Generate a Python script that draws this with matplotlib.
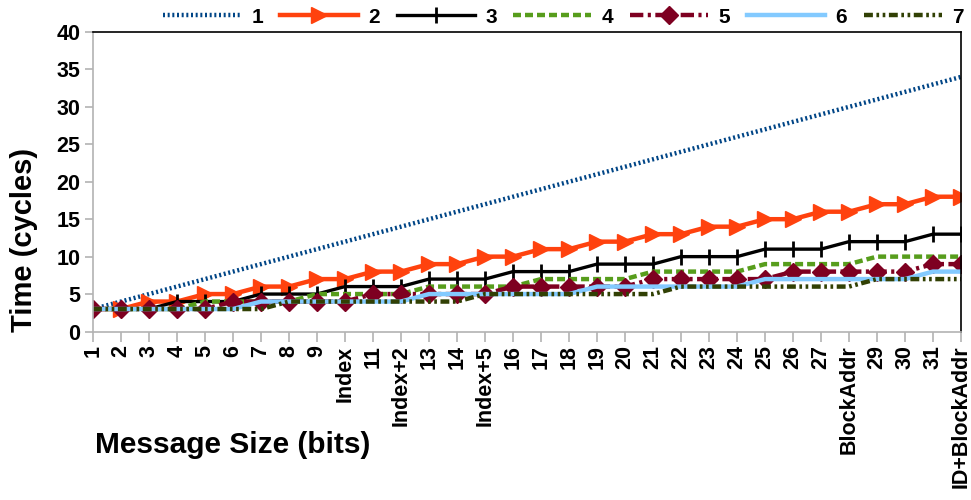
import matplotlib
matplotlib.use("Agg")
import matplotlib.pyplot as plt

# x categories (message size labels)
sizes = ["1", "2", "3", "4", "5", "6", "7", "8", "9", "Index", "11", "Index+2",
         "13", "14", "Index+5", "16", "17", "18", "19", "20", "21", "22", "23",
         "24", "25", "26", "27", "BlockAddr", "29", "30", "31", "ID+BlockAddr"]

# time in cycles for each series
s1 = [3, 4, 5, 6, 7, 8, 9, 10, 11, 12, 13, 14, 15, 16, 17, 18, 19, 20, 21, 22,
      23, 24, 25, 26, 27, 28, 29, 30, 31, 32, 33, 34]
s2 = [3, 3, 4, 4, 5, 5, 6, 6, 7, 7, 8, 8, 9, 9, 10, 10, 11, 11, 12, 12, 13, 13,
      14, 14, 15, 15, 16, 16, 17, 17, 18, 18]
s3 = [3, 3, 3, 4, 4, 4, 5, 5, 5, 6, 6, 6, 7, 7, 7, 8, 8, 8, 9, 9, 9, 10, 10, 10,
      11, 11, 11, 12, 12, 12, 13, 13]
s4 = [3, 3, 3, 3, 4, 4, 4, 4, 5, 5, 5, 5, 6, 6, 6, 6, 7, 7, 7, 7, 8, 8, 8, 8,
      9, 9, 9, 9, 10, 10, 10, 10]
s5 = [3, 3, 3, 3, 3, 4, 4, 4, 4, 4, 5, 5, 5, 5, 5, 6, 6, 6, 6, 6, 7, 7, 7, 7, 7,
      8, 8, 8, 8, 8, 9, 9]
s6 = [3, 3, 3, 3, 3, 3, 4, 4, 4, 4, 4, 4, 5, 5, 5, 5, 5, 5, 6, 6, 6, 6, 6, 6,
      7, 7, 7, 7, 7, 7, 8, 8]
s7 = [3, 3, 3, 3, 3, 3, 3, 4, 4, 4, 4, 4, 4, 4, 5, 5, 5, 5, 5, 5, 5, 6, 6, 6,
      6, 6, 6, 6, 7, 7, 7, 7]

plt.rcParams["font.family"] = ["Liberation Sans", "DejaVu Sans"]
plt.rcParams["font.weight"] = "bold"

fig = plt.figure(figsize=(9.71, 5.0), dpi=100)
ax = fig.add_axes([93 / 971, 1 - 331.5 / 500, 868 / 971, 299.5 / 500])

x = list(range(len(sizes)))
lw = 3.2

# series styles roughly follow the LibreOffice default palette
ax.plot(x, s1, color="#004586", lw=lw, ls=(0, (0.45, 0.6)), dash_capstyle="butt", label="1")
ax.plot(x, s2, color="#ff420e", lw=lw, marker=">", ms=11, label="2")
ax.plot(x, s3, color="black", lw=2.4, marker="|", ms=11, mew=2, label="3")
ax.plot(x, s4, color="#579d1c", lw=lw, ls=(0, (1.8, 0.9)), dash_capstyle="butt", label="4")
ax.plot(x, s5, color="#7e0021", lw=lw, ls=(0, (3, 1, 0.7, 1)), dash_capstyle="butt",
        marker="D", ms=9, label="5")
ax.plot(x, s6, color="#83caff", lw=lw, label="6")
ax.plot(x, s7, color="#314004", lw=lw, ls=(0, (2, 0.8, 0.6, 0.8, 0.6, 0.8)),
        dash_capstyle="butt", label="7")

ax.set_xlim(0, len(sizes) - 1)
ax.set_ylim(0, 40)
ax.set_yticks(range(0, 41, 5))
ax.set_xticks(x)
ax.set_xticklabels(sizes, rotation=90, fontsize=15.5, fontweight="bold")
for t in ax.get_yticklabels():
    t.set_fontsize(15.5)
    t.set_fontweight("bold")

ax.spines["left"].set_color("#b3b3b3")
ax.spines["bottom"].set_color("#b3b3b3")
ax.spines["top"].set_color("black")
ax.spines["right"].set_color("black")
for s in ax.spines.values():
    s.set_linewidth(1.2)
ax.tick_params(axis="both", color="#b3b3b3", length=6, width=1.2)
ax.tick_params(axis="x", length=7, pad=3)
ax.tick_params(axis="y", pad=3)

fig.text(24 / 971, 1 - 240 / 500, "Time (cycles)", rotation=90, ha="center", va="center",
         fontsize=21, fontweight="bold")
fig.text(95 / 971, 1 - 445 / 500, "Message Size (bits)", ha="left", va="center",
         fontsize=21.5, fontweight="bold")

fig.legend(loc="upper right", bbox_to_anchor=(1.012, 1.022), ncol=7, frameon=False,
           handlelength=3.75, handletextpad=0.5, columnspacing=0.8,
           prop={"weight": "bold", "size": 15})

fig.savefig("out.png", dpi=100)
